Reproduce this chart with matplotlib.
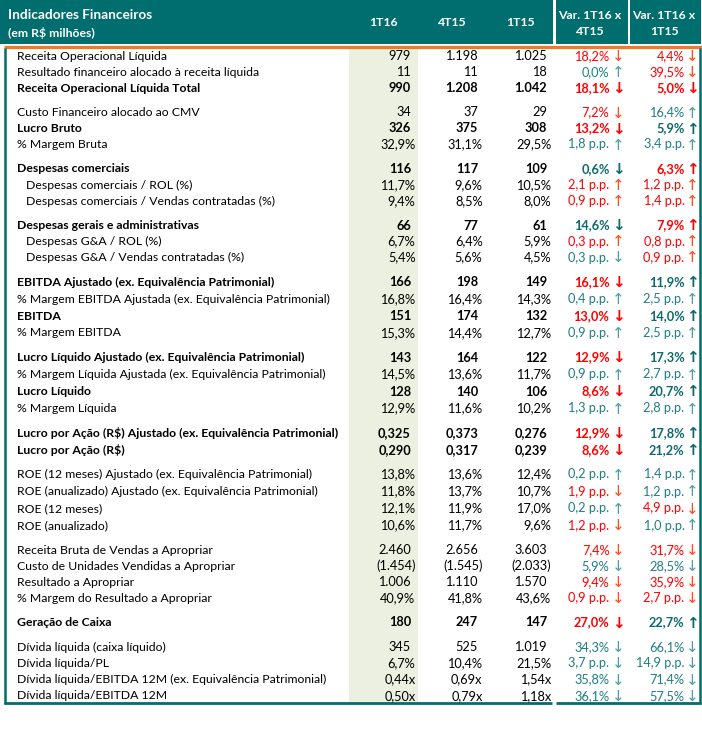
import matplotlib
matplotlib.use("Agg")
import matplotlib.pyplot as plt
from matplotlib.patches import Rectangle

# ---------------- data ----------------
title = "Indicadores Financeiros"
subtitle = "(em R$ milhões)"
col_headers = ["1T16", "4T15", "1T15"]
var_headers = ["Var. 1T16 x\n4T15", "Var. 1T16 x\n1T15"]

labels = [
    ["Receita Operacional Líquida", "Resultado financeiro alocado à receita líquida", "Receita Operacional Líquida Total"],
    ["Custo Financeiro alocado ao CMV", "Lucro Bruto", "% Margem Bruta"],
    ["Despesas comerciais", "Despesas comerciais / ROL (%)", "Despesas comerciais / Vendas contratadas (%)"],
    ["Despesas gerais e administrativas", "Despesas G&A / ROL (%)", "Despesas G&A / Vendas contratadas (%)"],
    ["EBITDA Ajustado (ex. Equivalência Patrimonial)", "% Margem EBITDA Ajustada (ex. Equivalência Patrimonial)",
     "EBITDA", "% Margem EBITDA"],
    ["Lucro Líquido Ajustado (ex. Equivalência Patrimonial)", "% Margem Líquida Ajustada (ex. Equivalência Patrimonial)",
     "Lucro Líquido", "% Margem Líquida"],
    ["Lucro por Ação (R$) Ajustado (ex. Equivalência Patrimonial)", "Lucro por Ação (R$)"],
    ["ROE (12 meses) Ajustado (ex. Equivalência Patrimonial)", "ROE (anualizado) Ajustado (ex. Equivalência Patrimonial)",
     "ROE (12 meses)", "ROE (anualizado)"],
    ["Receita Bruta de Vendas a Apropriar", "Custo de Unidades Vendidas a Apropriar", "Resultado a Apropriar",
     "% Margem do Resultado a Apropriar"],
    ["Geração de Caixa"],
    ["Dívida líquida (caixa líquido)", "Dívida líquida/PL", "Dívida líquida/EBITDA 12M (ex. Equivalência Patrimonial)",
     "Dívida líquida/EBITDA 12M"],
]
bold_rows = [
    [False, False, True], [False, True, False], [True, False, False], [True, False, False],
    [True, False, True, False], [True, False, True, False], [True, True],
    [False, False, False, False], [False, False, False, False], [True], [False, False, False, False],
]
indent_rows = [
    [False, False, False], [False, False, False], [False, True, True], [False, True, True],
    [False] * 4, [False] * 4, [False] * 2, [False] * 4, [False] * 4, [False], [False] * 4,
]
v1T16 = [
    ["979", "11", "990"], ["34", "326", "32,9%"], ["116", "11,7%", "9,4%"], ["66", "6,7%", "5,4%"],
    ["166", "16,8%", "151", "15,3%"], ["143", "14,5%", "128", "12,9%"], ["0,325", "0,290"],
    ["13,8%", "11,8%", "12,1%", "10,6%"], ["2.460", "(1.454)", "1.006", "40,9%"], ["180"],
    ["345", "6,7%", "0,44x", "0,50x"],
]
v4T15 = [
    ["1.198", "11", "1.208"], ["37", "375", "31,1%"], ["117", "9,6%", "8,5%"], ["77", "6,4%", "5,6%"],
    ["198", "16,4%", "174", "14,4%"], ["164", "13,6%", "140", "11,6%"], ["0,373", "0,317"],
    ["13,6%", "13,7%", "11,9%", "11,7%"], ["2.656", "(1.545)", "1.110", "41,8%"], ["247"],
    ["525", "10,4%", "0,69x", "0,79x"],
]
v1T15 = [
    ["1.025", "18", "1.042"], ["29", "308", "29,5%"], ["109", "10,5%", "8,0%"], ["61", "5,9%", "4,5%"],
    ["149", "14,3%", "132", "12,7%"], ["122", "11,7%", "106", "10,2%"], ["0,276", "0,239"],
    ["12,4%", "10,7%", "17,0%", "9,6%"], ["3.603", "(2.033)", "1.570", "43,6%"], ["147"],
    ["1.019", "21,5%", "1,54x", "1,18x"],
]
# variations: (text, direction 'u'/'d', tone 'r' red / 't' teal)
var1 = [
    [("18,2%", "d", "r"), ("0,0%", "u", "t"), ("18,1%", "d", "r")],
    [("7,2%", "d", "r"), ("13,2%", "d", "r"), ("1,8 p.p.", "u", "t")],
    [("0,6%", "d", "t"), ("2,1 p.p.", "u", "r"), ("0,9 p.p.", "u", "r")],
    [("14,6%", "d", "t"), ("0,3 p.p.", "u", "r"), ("0,3 p.p.", "d", "t")],
    [("16,1%", "d", "r"), ("0,4 p.p.", "u", "t"), ("13,0%", "d", "r"), ("0,9 p.p.", "u", "t")],
    [("12,9%", "d", "r"), ("0,9 p.p.", "u", "t"), ("8,6%", "d", "r"), ("1,3 p.p.", "u", "t")],
    [("12,9%", "d", "r"), ("8,6%", "d", "r")],
    [("0,2 p.p.", "u", "t"), ("1,9 p.p.", "d", "r"), ("0,2 p.p.", "u", "t"), ("1,2 p.p.", "d", "r")],
    [("7,4%", "d", "r"), ("5,9%", "d", "t"), ("9,4%", "d", "r"), ("0,9 p.p.", "d", "r")],
    [("27,0%", "d", "r")],
    [("34,3%", "d", "t"), ("3,7 p.p.", "d", "t"), ("35,8%", "d", "t"), ("36,1%", "d", "t")],
]
var2 = [
    [("4,4%", "d", "r"), ("39,5%", "d", "r"), ("5,0%", "d", "r")],
    [("16,4%", "u", "t"), ("5,9%", "u", "t"), ("3,4 p.p.", "u", "t")],
    [("6,3%", "u", "r"), ("1,2 p.p.", "u", "r"), ("1,4 p.p.", "u", "r")],
    [("7,9%", "u", "r"), ("0,8 p.p.", "u", "r"), ("0,9 p.p.", "u", "r")],
    [("11,9%", "u", "t"), ("2,5 p.p.", "u", "t"), ("14,0%", "u", "t"), ("2,5 p.p.", "u", "t")],
    [("17,3%", "u", "t"), ("2,7 p.p.", "u", "t"), ("20,7%", "u", "t"), ("2,8 p.p.", "u", "t")],
    [("17,8%", "u", "t"), ("21,2%", "u", "t")],
    [("1,4 p.p.", "u", "t"), ("1,2 p.p.", "u", "t"), ("4,9 p.p.", "d", "r"), ("1,0 p.p.", "u", "t")],
    [("31,7%", "d", "r"), ("28,5%", "d", "t"), ("35,9%", "d", "r"), ("2,7 p.p.", "d", "r")],
    [("22,7%", "u", "t")],
    [("66,1%", "d", "t"), ("14,9 p.p.", "d", "t"), ("71,4%", "d", "t"), ("57,5%", "d", "t")],
]

# ---------------- layout / style ----------------
W, H = 702, 736
TEAL = "#006E6E"
ORANGE = "#F07A22"
SHADE = "#EBF0E0"
RED = "#FF0000"
TEAL_TXT = "#1E7E86"
TEAL_BOLD = "#0D6A6C"
RED_ARROW = "#FF4A1A"
TEAL_ARROW = "#4E9E9E"

group_row_h = [16, 16, 16, 16, 17, 17, 17, 17, 16, 16, 16.3]
group_step = 24.5
first_y = 56

FONT = ["Lato", "DejaVu Sans"]
FS = 8.85
FS_NUM = 9.2

fig = plt.figure(figsize=(W / 100, H / 100), dpi=100)
ax = fig.add_axes([0, 0, 1, 1])
ax.set_xlim(0, W)
ax.set_ylim(H, 0)
ax.axis("off")

body_top, body_bot = 48.5, 702.5
# header
for x0, x1 in [(0, 553), (555.5, 627.5), (630, 700.5)]:
    ax.add_patch(Rectangle((x0, 0), x1 - x0, 44, color=TEAL, lw=0))
# shaded column
ax.add_patch(Rectangle((349, body_top), 69, body_bot - body_top, color=SHADE, lw=0))
# orange line
ax.plot([4, 702], [47, 47], color=ORANGE, lw=2.3, solid_capstyle="butt")
# borders
ax.plot([5, 5], [48, body_bot + 1], color=TEAL, lw=1.8, solid_capstyle="butt")
ax.plot([699.8, 699.8], [48, body_bot + 1], color=TEAL, lw=1.8, solid_capstyle="butt")
ax.plot([4, 552], [body_bot, body_bot], color=TEAL, lw=2.0, solid_capstyle="butt")
ax.plot([556, 701], [body_bot, body_bot], color=TEAL, lw=2.0, solid_capstyle="butt")

# header texts
ax.text(8, 15, title, color="white", fontsize=9.8, fontweight="bold", family=FONT, va="center", ha="left")
ax.text(8, 33, subtitle, color="white", fontsize=8.8, fontweight="bold", family=FONT, va="center", ha="left")
for cx, h in zip([383, 452, 520], col_headers):
    ax.text(cx, 23, h, color="white", fontsize=8.8, fontweight="bold", family=FONT, va="center", ha="center")
for cx, h in zip([590, 664], var_headers):
    ax.text(cx, 23.5, h, color="white", fontsize=8.8, fontweight="bold", family=FONT, va="center", ha="center",
            linespacing=1.45)

col_right = [411, 478, 547]
var_txt_right = [609.5, 684.5]
var_arrow_x = [618.5, 692.5]

y = first_y
for g in range(len(labels)):
    for i, lab in enumerate(labels[g]):
        yy = y + i * group_row_h[g]
        bold = bold_rows[g][i]
        fw = "bold" if bold else "normal"
        lx = 26 if indent_rows[g][i] else 17
        ax.text(lx, yy, lab, color="black", fontsize=FS, fontweight=fw, family=FONT, va="center", ha="left")
        for cr, vals in zip(col_right, [v1T16, v4T15, v1T15]):
            s = vals[g][i]
            xr = cr if s[-1].isdigit() else cr + 4.5
            ax.text(xr, yy, s, color="black", fontsize=FS_NUM, fontweight=fw, family=FONT, va="center", ha="right")
        for k, vv in enumerate([var1, var2]):
            txt, d, tone = vv[g][i]
            if tone == "r":
                c = RED
                ac = RED if bold else RED_ARROW
            else:
                c = TEAL_BOLD if bold else TEAL_TXT
                ac = TEAL_BOLD if bold else TEAL_ARROW
            ax.text(var_txt_right[k], yy, txt, color=c, fontsize=FS_NUM, fontweight=fw, family=FONT,
                    va="center", ha="right")
            ax.text(var_arrow_x[k], yy + 0.5, "↓" if d == "d" else "↑", color=ac, fontsize=11,
                    fontweight=fw, family=["DejaVu Sans"], va="center", ha="center")
    last = y + (len(labels[g]) - 1) * group_row_h[g]
    y = last + group_step

fig.savefig("out.png", dpi=100)
